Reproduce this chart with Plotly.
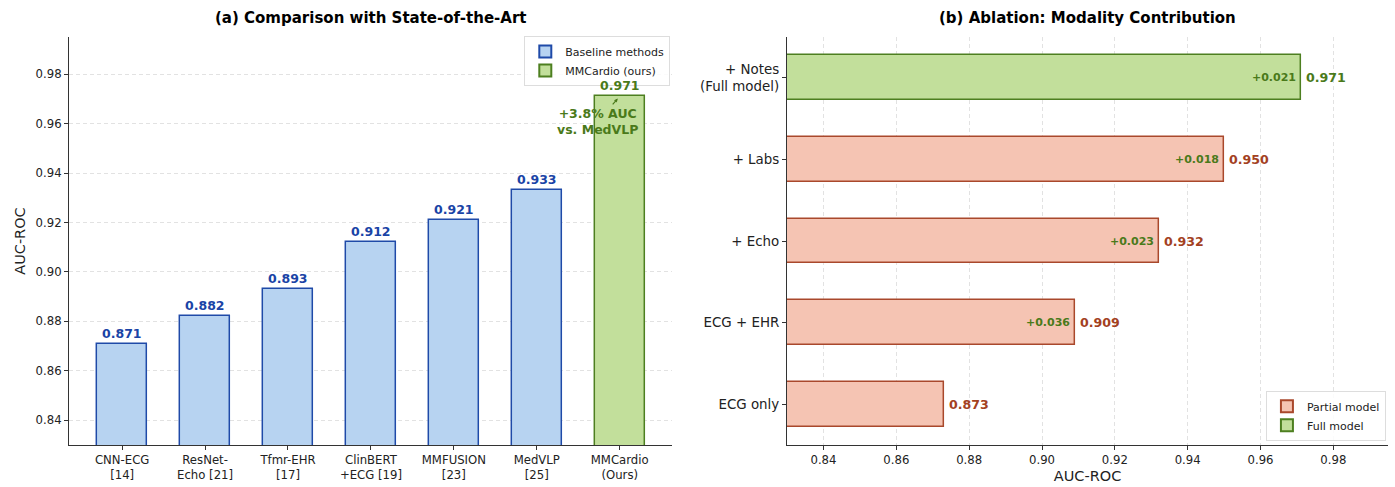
import plotly.graph_objects as go

# ---- data ----
methods = ["CNN-ECG<br>[14]", "ResNet-<br>Echo [21]", "Tfmr-EHR<br>[17]", "ClinBERT<br>+ECG [19]",
           "MMFUSION<br>[23]", "MedVLP<br>[25]", "MMCardio<br>(Ours)"]
method_auc = [0.871, 0.882, 0.893, 0.912, 0.921, 0.933, 0.971]

stages = ["ECG only", "ECG + EHR", "+ Echo", "+ Labs", "+ Notes<br>(Full model)"]
stage_auc = [0.873, 0.909, 0.932, 0.950, 0.971]
stage_gain = [None, "+0.036", "+0.023", "+0.018", "+0.021"]

auc_ticks = [0.84, 0.86, 0.88, 0.90, 0.92, 0.94, 0.96, 0.98]

# ---- styles ----
BLUE_FILL, BLUE_EDGE, BLUE_TXT = "#b7d3f1", "#1f4aa8", "#1a44a6"
GREEN_FILL, GREEN_EDGE, GREEN_TXT = "#c2df9b", "#4d7f20", "#4a7a1a"
RED_FILL, RED_EDGE, RED_TXT = "#f5c4b3", "#a9482c", "#a3411f"
FONT = "DejaVu Sans"
AX = "#333333"
GRID = "#e2e2e2"
TICK_SIZE = 11.7

fig = go.Figure()

n = len(methods)
xpos = list(range(n))

# (a) baseline methods and ours
fig.add_trace(go.Bar(
    x=xpos[:-1], y=method_auc[:-1], width=0.6, name="Baseline methods",
    marker=dict(color=BLUE_FILL, line=dict(color=BLUE_EDGE, width=1.5)),
    xaxis="x", yaxis="y", legend="legend",
))
fig.add_trace(go.Bar(
    x=xpos[-1:], y=method_auc[-1:], width=0.6, name="MMCardio (ours)",
    marker=dict(color=GREEN_FILL, line=dict(color=GREEN_EDGE, width=1.5)),
    xaxis="x", yaxis="y", legend="legend",
))

annotations = []
for i, v in enumerate(method_auc):
    col = GREEN_TXT if i == n - 1 else BLUE_TXT
    annotations.append(dict(
        x=i, y=v, xref="x", yref="y", text=f"<b>{v:.3f}</b>", showarrow=False,
        yanchor="bottom", yshift=1, font=dict(family=FONT, size=12.5, color=col),
    ))

gain_pts = (method_auc[-1] - method_auc[-2]) * 100
annotations.append(dict(
    x=n - 1, y=method_auc[-1], xref="x", yref="y",
    text=f"<b>+{gain_pts:.1f}% AUC<br>vs. MedVLP</b>",
    showarrow=True, arrowhead=2, arrowsize=0.6, arrowwidth=1.2, arrowcolor=GREEN_TXT,
    ax=-22, ay=25, standoff=3,
    font=dict(family=FONT, size=12.5, color=GREEN_TXT),
))

# (b) ablation
ypos = list(range(len(stages)))
fig.add_trace(go.Bar(
    y=ypos[:-1], x=stage_auc[:-1], width=0.55, orientation="h", name="Partial model",
    marker=dict(color=RED_FILL, line=dict(color=RED_EDGE, width=1.5)),
    xaxis="x2", yaxis="y2", legend="legend2", base=0,
))
fig.add_trace(go.Bar(
    y=ypos[-1:], x=stage_auc[-1:], width=0.55, orientation="h", name="Full model",
    marker=dict(color=GREEN_FILL, line=dict(color=GREEN_EDGE, width=1.5)),
    xaxis="x2", yaxis="y2", legend="legend2", base=0,
))

for j, v in enumerate(stage_auc):
    col = GREEN_TXT if j == len(stages) - 1 else RED_TXT
    annotations.append(dict(
        x=v, y=j, xref="x2", yref="y2", text=f"<b>{v:.3f}</b>", showarrow=False,
        xanchor="left", xshift=3, font=dict(family=FONT, size=12.6, color=col),
    ))
    if stage_gain[j]:
        annotations.append(dict(
            x=v, y=j, xref="x2", yref="y2", text=f"<b>{stage_gain[j]}</b>", showarrow=False,
            xanchor="right", xshift=-3, font=dict(family=FONT, size=11, color=GREEN_TXT),
        ))

# panel titles
annotations += [
    dict(x=0.2656, y=1, xref="paper", yref="paper", xanchor="center", yanchor="top", yshift=-7,
         text="<b>(a) Comparison with State-of-the-Art</b>", showarrow=False,
         font=dict(family=FONT, size=15, color="black")),
    dict(x=0.7796, y=1, xref="paper", yref="paper", xanchor="center", yanchor="top", yshift=-7,
         text="<b>(b) Ablation: Modality Contribution</b>", showarrow=False,
         font=dict(family=FONT, size=15, color="black")),
]

def axis_style(size=TICK_SIZE):
    return dict(showline=True, linecolor=AX, linewidth=1.2, ticks="outside", ticklen=4,
                tickcolor=AX, tickfont=dict(family=FONT, size=size, color="#222"),
                zeroline=False, mirror=False)

title_font = dict(family=FONT, size=14.5, color="#222")

legend_common = dict(bgcolor="rgba(255,255,255,0.85)", bordercolor="#dddddd", borderwidth=1,
                     font=dict(family=FONT, size=11, color="#222"), traceorder="normal",
                     itemsizing="constant", tracegroupgap=0)

fig.update_layout(
    width=1395, height=487, margin=dict(l=0, r=0, t=0, b=0),
    plot_bgcolor="white", paper_bgcolor="white",
    font=dict(family=FONT, color="#222"),
    barmode="overlay", bargap=0,
    annotations=annotations,
    xaxis=dict(domain=[0.0495, 0.4817], range=[-0.64, 6.63], tickvals=xpos, ticktext=methods,
               showgrid=False, **axis_style()),
    yaxis=dict(domain=[0.0862, 0.924], range=[0.83, 0.995], tickvals=auc_ticks,
               tickformat=".2f", showgrid=True, gridcolor=GRID, griddash="4px,3px", gridwidth=1,
               title=dict(text="AUC-ROC", font=title_font, standoff=6),
               **axis_style()),
    xaxis2=dict(domain=[0.5642, 0.995], range=[0.83, 0.995], tickvals=auc_ticks,
                tickformat=".2f", showgrid=True, gridcolor=GRID, griddash="4px,3px", gridwidth=1,
                title=dict(text="AUC-ROC", font=title_font, standoff=4),
                anchor="y2", **axis_style()),
    yaxis2=dict(domain=[0.0862, 0.924], range=[-0.5, 4.5], tickvals=ypos, ticktext=stages,
                showgrid=False, anchor="x2", **axis_style(13.4)),
    legend=dict(x=0.4805, y=0.926, xanchor="right", yanchor="top", **legend_common),
    legend2=dict(x=0.9935, y=0.095, xanchor="right", yanchor="bottom", **legend_common),
)

fig.write_html("out.html")
